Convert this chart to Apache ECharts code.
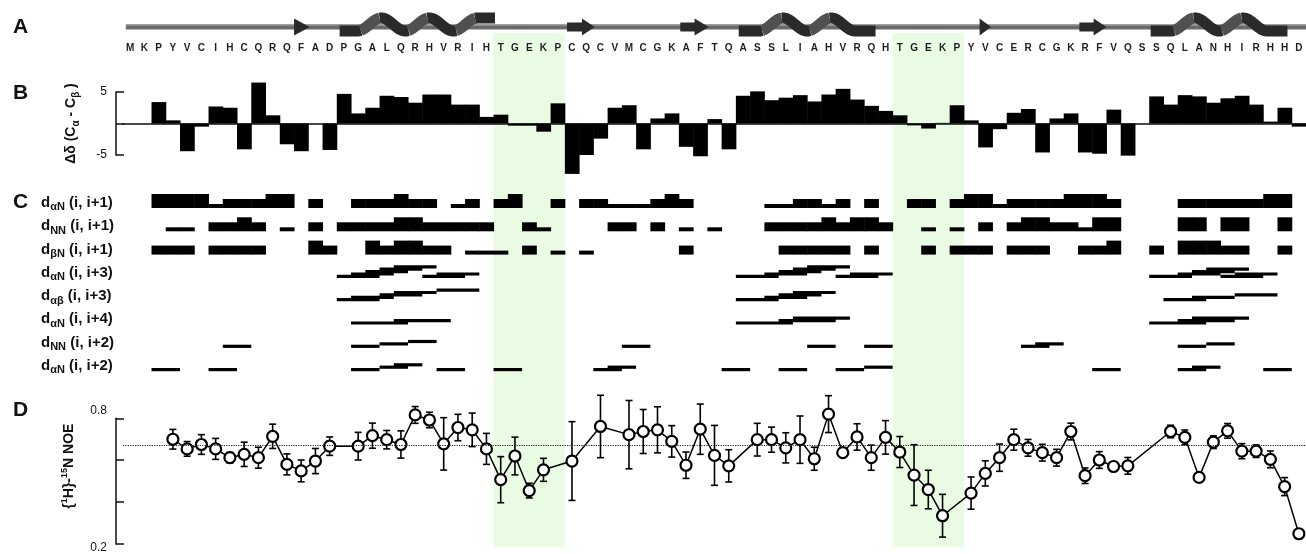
<!DOCTYPE html>
<html>
<head>
<meta charset="utf-8">
<script src="https://cdn.jsdelivr.net/npm/echarts@6/dist/echarts.min.js"></script>
<style>
  html, body { margin: 0; padding: 0; background: #fff; }
  #chart { width: 1306px; height: 554px; }
</style>
</head>
<body>
<div id="chart"></div>
<script>
// residue sequence (1..83)
const sequence = 'MKPYVCIHCQRQFADPGALQRHVRIHTGEKPCQCVMCGKAFTQASSLIAHVRQHTGEKPYVCERCGKRFVQSSQLANHIRHHD'.split('');
const linkers = [[27, 31], [55, 59]];

// secondary structure (residue coordinates)
const strandStart = [12.5, 31.65, 39.6, 60.6, 67.6];
const strandHead = [12.5, 32.7, 40.6, 60.6, 68.6];
const strandEnd = [13.6, 33.6, 41.6, 61.4, 69.5];
const helixStart = [15.7, 43.7, 72.6];
const helixEnd = [26.6, 53.3, 82.2];
const helixHalfTurns = [5, 4, 4];

// panel B: delta(Ca - Cb)
const deltaCaCb = [null, null, 3.4, 0.5, -4.4, -0.5, 2.7, 2.5, -4.1, 6.5,
  1.3, -3.3, -4.4, 0, -4.2, 4.7, 1.6, 2.5, 4.4, 4.2,
  3.3, 4.6, 4.6, 3.0, 3.0, 1.05, 1.4, -0.35, -0.35, -1.3,
  3.2, -8.0, -5.0, -2.4, 2.5, 2.9, -4.1, 0.8, 1.6, -3.7,
  -5.2, 0.7, -4.1, 4.4, 5.1, 3.7, 4.1, 4.5, 3.5, 4.6,
  5.5, 3.8, 2.8, 2.0, 1.3, -0.3, -0.8, 0.1, 2.9, 0.5,
  -3.8, -0.9, 1.7, 2.3, -4.6, 0.8, 1.6, -4.6, -4.8, 2.2,
  -5.1, 0, 4.3, 3.0, 4.5, 4.3, 3.3, 4.0, 4.4, 3.0,
  0.3, 2.5, -0.5];

// panel C: sequential NOE strength per residue (0 none, 1 weak, 2 medium, 3 strong)
const dAN1 = [0,0,3,3,3,3,1,2,2,2, 3,3,0,2,0,0,2,2,2,3, 2,2,0,1,2,0,2,3,0,0,
  2,0,2,2,1,1,1,2,3,2, 0,0,0,0,0,1,1,2,2,1, 2,0,2,0,0,2,2,0,2,3,
  3,1,2,2,2,2,3,3,3,2, 0,0,0,0,2,2,2,2,2,2, 3,3,0];
const dNN1 = [0,0,0,1,1,0,2,2,3,2, 0,1,0,2,0,2,2,2,2,3, 3,2,2,2,2,2,0,0,2,1,
  0,0,0,0,2,2,0,2,0,1, 0,1,0,0,0,2,2,2,2,3, 2,3,3,2,0,0,1,0,1,0,
  2,0,2,3,3,2,2,1,3,3, 0,0,0,0,3,3,0,3,3,0, 0,3,0];
const dBN1 = [0,0,2,2,2,0,2,2,2,2, 0,0,0,3,2,0,0,3,2,3, 3,2,2,0,1,1,1,0,2,0,
  1,0,1,0,0,0,0,0,0,2, 0,0,0,0,0,0,2,2,2,2, 2,0,2,0,0,0,2,0,2,2,
  2,0,2,2,2,0,0,2,2,3, 0,0,2,0,3,3,3,2,2,0, 0,2,0];
// medium range NOEs: [first residue, stack level]
const dAN3 = [[16,0],[17,1],[18,2],[19,3],[20,4],[22,0],[23,1],[44,0],[46,1],[47,2],[48,3],[49,4],[51,0],[52,1],
  [73,0],[75,1],[76,2],[77,3],[78,0],[79,1]];
const dAB3 = [[16,0],[17,1],[19,2],[20,3],[23,4],[44,0],[46,1],[47,2],[48,3],[74,0],[76,1],[79,2]];
const dAN4 = [[17,0],[20,1],[44,0],[47,1],[48,2],[73,0],[75,1],[76,2]];
const dNN2 = [[8,0],[17,0],[19,1],[21,2],[36,0],[49,0],[53,0],[64,0],[65,1],[75,0],[77,1]];
const dAN2 = [[3,0],[7,0],[17,0],[19,1],[20,2],[23,0],[27,0],[34,0],[35,1],[43,0],[47,0],[51,0],[53,1],
  [69,0],[75,0],[76,1],[81,0]];
const rowSubs = ['αN', 'NN', 'βN', 'αN', 'αβ', 'αN', 'NN', 'αN'];
const rowRanges = ['(i, i+1)', '(i, i+1)', '(i, i+1)', '(i, i+3)', '(i, i+3)', '(i, i+4)', '(i, i+2)', '(i, i+2)'];
const rowSpans = [1, 1, 1, 3, 3, 4, 2, 2];

// panel D: heteronuclear NOE
const noeValues = [null,null,null,0.70,0.654,0.675,0.654,0.612,0.628,0.612,
  0.714,0.58,0.549,0.596,0.667,null,0.667,0.717,0.698,0.675,
  0.816,0.792,0.678,0.756,0.745,0.654,0.507,0.62,0.455,0.554,
  null,0.596,null,0.761,null,0.722,0.737,0.745,0.69,0.576,
  0.748,0.623,0.573,null,0.698,0.698,0.659,0.698,0.607,0.82,
  0.636,0.711,0.612,0.709,0.639,0.529,0.46,0.335,null,0.443,
  0.537,0.612,0.698,0.659,0.636,0.612,0.737,0.526,0.601,0.57,
  0.573,null,null,0.737,0.709,0.518,0.686,0.74,0.643,0.643,
  0.604,0.474,0.249];
const noeErrors = [null,null,null,0.047,0.035,0.047,0.05,0.025,0.058,0.05,
  0.058,0.05,0.052,0.06,0.044,null,0.066,0.06,0.044,0.065,
  0.04,0.037,0.125,0.063,0.08,0.074,0.11,0.09,0.035,0.055,
  null,0.188,null,0.149,null,0.163,0.105,0.11,0.075,0.063,
  0.12,0.143,0.077,null,0.078,0.06,0.072,0.113,0.055,0.088,
  0.017,0.063,0.06,0.08,0.074,0.145,0.092,0.102,null,0.077,
  0.06,0.065,0.05,0.04,0.04,0.04,0.04,0.037,0.04,0.02,
  0.04,null,null,0.03,0.035,0,0.03,0.035,0.036,0.03,
  0.04,0.043,0];
const noeMean = 0.67;

const FONT = "'Liberation Sans', Arial, sans-serif";
const INK = '#111';
const chart = echarts.init(document.getElementById('chart'));

const gridBox = { left: 123, width: 1191 };
const hiddenX = (gridIndex) => ({ type: 'value', gridIndex, min: 0.5, max: 83.5, show: false });
const axisLine = { show: true, lineStyle: { color: INK, width: 1.5 } };
const axisTick = { show: true, inside: true, length: 8, lineStyle: { color: INK, width: 1.5 } };

// secondary structure items: [kind, a, b, c]
const ssItems = [[0, 0.7, 83.5, 0]];
strandStart.forEach((s, i) => ssItems.push([1, s, strandHead[i], strandEnd[i]]));
helixStart.forEach((s, i) => ssItems.push([2, s, helixEnd[i], helixHalfTurns[i]]));

function renderSS(params, api) {
  const kind = api.value(0);
  const p0 = api.coord([api.value(1), 0.5]);
  const p1 = api.coord([api.value(2), 0.5]);
  const yc = p0[1];
  if (kind === 0) {
    return { type: 'group', children: [
      { type: 'rect', shape: { x: p0[0], y: yc - 2.5, width: p1[0] - p0[0], height: 5 }, style: { fill: '#6a6a6a' } },
      { type: 'rect', shape: { x: p0[0], y: yc - 2.5, width: p1[0] - p0[0], height: 1.5 }, style: { fill: '#8a8a8a' } }
    ] };
  }
  if (kind === 1) {
    const p2 = api.coord([api.value(3), 0.5]);
    const children = [];
    if (p1[0] > p0[0]) {
      children.push({ type: 'rect', shape: { x: p0[0], y: yc - 4.5, width: p1[0] - p0[0] + 1, height: 9 }, style: { fill: '#2a2a2a' } });
    }
    children.push({ type: 'polygon', shape: { points: [[p1[0], yc - 8.5], [p2[0], yc], [p1[0], yc + 8.5]] }, style: { fill: '#2a2a2a' } });
    return { type: 'group', children };
  }
  // helix ribbon
  const halfTurns = api.value(3);
  const len = p1[0] - p0[0];
  const flat = Math.max(0.04, (1 - halfTurns * 24 / len) / 2);
  const amp = 6.5;
  const cy = yc - 2.5;
  const n = 140;
  const pts = [];
  for (let k = 0; k <= n; k++) {
    const t = k / n;
    const ph = Math.min(1, Math.max(0, (t - flat) / (1 - 2 * flat))) * halfTurns * Math.PI;
    pts.push({ p: [p0[0] + t * len, cy + amp * Math.cos(ph)], up: Math.sin(ph) > 0.3 });
  }
  const pieces = [];
  let cur = { up: pts[0].up, pts: [pts[0].p] };
  for (let k = 1; k <= n; k++) {
    cur.pts.push(pts[k].p);
    if (pts[k].up !== cur.up) {
      pieces.push(cur);
      cur = { up: pts[k].up, pts: [pts[k].p] };
    }
  }
  pieces.push(cur);
  const mk = (q, color) => ({ type: 'polyline', shape: { points: q.pts }, style: { stroke: color, lineWidth: 11, fill: null, lineJoin: 'round' } });
  const dark = pieces.filter(q => !q.up).map(q => mk(q, '#2a2a2a'));
  const light = pieces.filter(q => q.up).map(q => mk(q, '#505050'));
  return { type: 'group', children: dark.concat(light) };
}

// sequential NOE blocks
const blockItems = [];
[dAN1, dNN1, dBN1].forEach((arr, row) => arr.forEach((lv, i) => { if (lv > 0) blockItems.push([i + 1, row, lv]); }));
const blockHeights = [0, 4, 9, 14];
function renderBlock(params, api) {
  const x = api.value(0), row = api.value(1), lv = api.value(2);
  const a = api.coord([x - 0.5, row]);
  const b = api.coord([x + 0.5, row]);
  const base = a[1] + api.size([0, 1])[1] / 2;
  const h = blockHeights[lv];
  return { type: 'rect', shape: { x: a[0], y: base - h, width: b[0] - a[0] + 0.5, height: h }, style: { fill: '#000' } };
}

// medium range NOE lines
const lineItems = [];
[[3, dAN3], [4, dAB3], [5, dAN4], [6, dNN2], [7, dAN2]].forEach(([row, arr]) => arr.forEach(([s, lvl]) => lineItems.push([s, row, rowSpans[row], lvl])));
function renderNoeLine(params, api) {
  const s = api.value(0), row = api.value(1), span = api.value(2), lvl = api.value(3);
  const a = api.coord([s - 0.5, row]);
  const b = api.coord([s - 0.5 + span, row]);
  const base = a[1] + api.size([0, 1])[1] / 2;
  const yc = base - 1.5 - lvl * 2.4;
  return { type: 'rect', shape: { x: a[0], y: yc - 1.6, width: b[0] - a[0], height: 3.2 }, style: { fill: '#000' } };
}

const deltaData = deltaCaCb.map((v, i) => [i + 1, v]).filter(d => d[1] !== null);
function renderDelta(params, api) {
  const x = api.value(0), v = api.value(1);
  const a = api.coord([x - 0.5, v]);
  const b = api.coord([x + 0.5, 0]);
  return { type: 'rect', shape: { x: a[0], y: Math.min(a[1], b[1]), width: b[0] - a[0] + 0.5, height: Math.abs(b[1] - a[1]) }, style: { fill: '#000' } };
}

const noeData = noeValues.map((v, i) => [i + 1, v]).filter(d => d[1] !== null);
const errData = noeValues.map((v, i) => [i + 1, v, noeErrors[i]]).filter(d => d[1] !== null && d[2] > 0);
function renderErr(params, api) {
  const x = api.value(0), v = api.value(1), e = api.value(2);
  const hi = api.coord([x, v + e]);
  const lo = api.coord([x, v - e]);
  const st = { stroke: '#000', lineWidth: 1.6 };
  return { type: 'group', children: [
    { type: 'line', shape: { x1: hi[0], y1: hi[1], x2: lo[0], y2: lo[1] }, style: st },
    { type: 'line', shape: { x1: hi[0] - 3.5, y1: hi[1], x2: hi[0] + 3.5, y2: hi[1] }, style: st },
    { type: 'line', shape: { x1: lo[0] - 3.5, y1: lo[1], x2: lo[0] + 3.5, y2: lo[1] }, style: st }
  ] };
}

const panelTitle = (text, top) => ({ text, left: 13, top, padding: 0, textStyle: { fontFamily: FONT, fontSize: 21, fontWeight: 'bold', color: INK } });

const option = {
  animation: false,
  backgroundColor: '#fff',
  title: [panelTitle('A', 17), panelTitle('B', 83), panelTitle('C', 192), panelTitle('D', 400)],
  grid: [
    { ...gridBox, top: 33, height: 514 },
    { ...gridBox, top: 12, height: 30 },
    { ...gridBox, top: 92, height: 63 },
    { ...gridBox, top: 184.7, height: 186.4 },
    { ...gridBox, top: 418.3, height: 127.7 }
  ],
  xAxis: [
    hiddenX(0),
    hiddenX(1),
    {
      type: 'category', gridIndex: 1, data: sequence, position: 'bottom',
      axisLine: { show: false }, axisTick: { show: false }, splitLine: { show: false },
      axisLabel: { interval: 0, margin: 1, fontFamily: FONT, fontSize: 10, fontWeight: 'bold', color: '#1e1e1e' }
    },
    {
      type: 'value', gridIndex: 2, min: 0.5, max: 83.5,
      axisLine: { show: true, onZero: true, lineStyle: { color: INK, width: 1.5 } },
      axisTick: { show: false }, axisLabel: { show: false }, splitLine: { show: false }
    },
    hiddenX(3),
    hiddenX(4)
  ],
  yAxis: [
    { type: 'value', gridIndex: 0, min: 0, max: 1, show: false },
    { type: 'value', gridIndex: 1, min: 0, max: 1, show: false },
    {
      type: 'value', gridIndex: 2, min: -5, max: 5, interval: 5, offset: 7,
      axisLine, axisTick, splitLine: { show: false },
      axisLabel: { formatter: v => (v === 0 ? '' : String(v)), margin: 9, fontFamily: FONT, fontSize: 12, color: INK },
      name: '{d|Δδ (C}{s|α}{d| - C}{s|β}{d| )}', nameLocation: 'middle', nameRotate: 90, nameGap: 35,
      nameTextStyle: {
        fontFamily: FONT, fontSize: 14, fontWeight: 'bold', color: INK,
        rich: {
          d: { fontFamily: FONT, fontSize: 14, fontWeight: 'bold', color: INK, lineHeight: 19 },
          s: { fontFamily: FONT, fontSize: 10, fontWeight: 'bold', color: INK, lineHeight: 10, verticalAlign: 'bottom' }
        }
      }
    },
    {
      type: 'category', gridIndex: 3, inverse: true, data: rowSubs,
      axisLine: { show: false }, axisTick: { show: false }, splitLine: { show: false },
      axisLabel: {
        align: 'left', margin: 82, padding: [13, 0, 0, 0],
        formatter: (v, i) => `{d|d}{s|${rowSubs[i]}}{d| ${rowRanges[i]}}`,
        rich: {
          d: { fontFamily: FONT, fontSize: 15, fontWeight: 'bold', color: INK, lineHeight: 20 },
          s: { fontFamily: FONT, fontSize: 11, fontWeight: 'bold', color: INK, lineHeight: 11, verticalAlign: 'bottom' }
        }
      }
    },
    {
      type: 'value', gridIndex: 4, min: 0.2, max: 0.8, interval: 0.2, offset: 7,
      axisLine, axisTick, splitLine: { show: false },
      axisLabel: {
        margin: 9,
        formatter: v => (Math.abs(v - 0.8) < 1e-6 ? '{hi|0.8}' : Math.abs(v - 0.2) < 1e-6 ? '{lo|0.2}' : ''),
        rich: {
          hi: { fontFamily: FONT, fontSize: 12, color: INK, padding: [0, 0, 16, 0] },
          lo: { fontFamily: FONT, fontSize: 12, color: INK, padding: [8, 0, 0, 0] }
        }
      },
      name: '{{p|1}H}-{p|15}N NOE', nameLocation: 'middle', nameRotate: 90, nameGap: 38,
      nameTextStyle: {
        fontFamily: FONT, fontSize: 14, fontWeight: 'bold', color: INK, lineHeight: 18, padding: [0, 0, 0, 30],
        rich: {
          p: { fontFamily: FONT, fontSize: 9, fontWeight: 'bold', color: INK, lineHeight: 9, verticalAlign: 'top' }
        }
      }
    }
  ],
  series: [
    {
      type: 'custom', name: 'linker', xAxisIndex: 0, yAxisIndex: 0, z: 0, silent: true,
      data: linkers,
      renderItem: (params, api) => {
        const a = api.coord([api.value(0) - 0.5, 1]);
        const b = api.coord([api.value(1) + 0.5, 0]);
        return { type: 'rect', shape: { x: a[0], y: a[1], width: b[0] - a[0], height: b[1] - a[1] }, style: { fill: '#eafbe3' } };
      }
    },
    { type: 'custom', name: 'structure', xAxisIndex: 1, yAxisIndex: 1, z: 3, silent: true, clip: false, data: ssItems, renderItem: renderSS },
    { type: 'custom', name: 'delta', xAxisIndex: 3, yAxisIndex: 2, z: 3, silent: true, clip: false, data: deltaData, renderItem: renderDelta },
    { type: 'custom', name: 'sequential', xAxisIndex: 4, yAxisIndex: 3, z: 3, silent: true, data: blockItems, renderItem: renderBlock },
    { type: 'custom', name: 'medium', xAxisIndex: 4, yAxisIndex: 3, z: 3, silent: true, data: lineItems, renderItem: renderNoeLine },
    { type: 'custom', name: 'noeErr', xAxisIndex: 5, yAxisIndex: 4, z: 3, silent: true, clip: false, data: errData, renderItem: renderErr },
    {
      type: 'line', name: 'noe', xAxisIndex: 5, yAxisIndex: 4, z: 4, data: noeData, clip: false,
      symbol: 'circle', symbolSize: 11, showAllSymbol: true,
      itemStyle: { color: '#fff', borderColor: '#000', borderWidth: 2.2 },
      lineStyle: { color: '#000', width: 1.5 },
      markLine: {
        silent: true, symbol: 'none', label: { show: false },
        lineStyle: { type: 'dotted', color: '#222', width: 1.2 },
        data: [{ yAxis: noeMean }]
      }
    }
  ]
};
chart.setOption(option);
</script>
</body>
</html>
